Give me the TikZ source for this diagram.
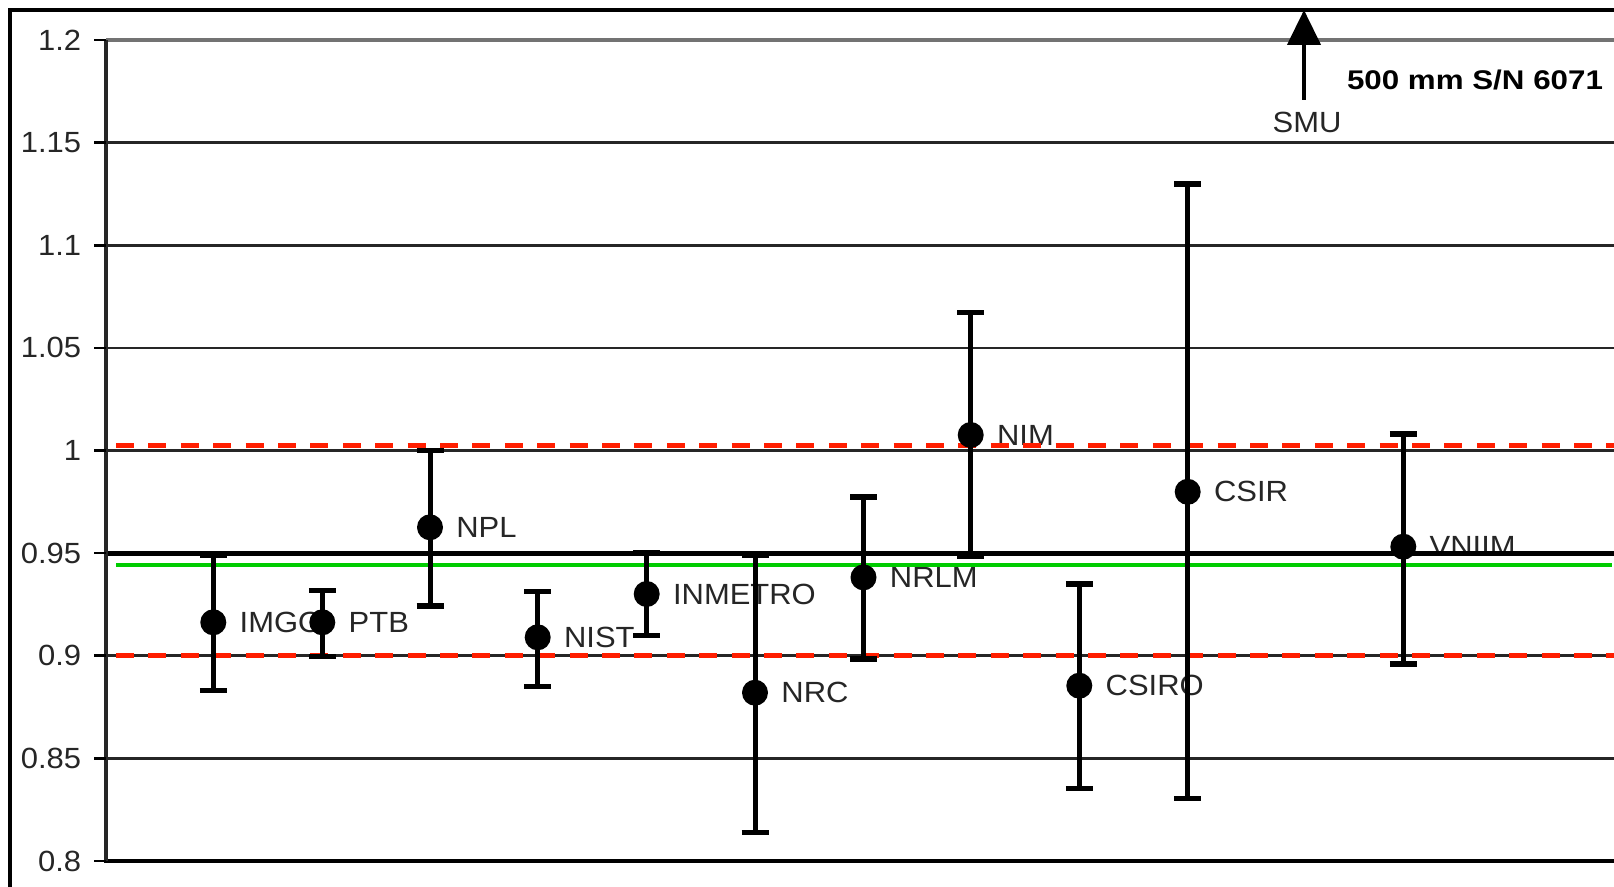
\documentclass[tikz,border=0pt]{standalone}
\usepackage{fontspec}
\setmainfont{Liberation Sans}
\usepackage{graphicx}
\usetikzlibrary{arrows.meta}
\definecolor{refred}{RGB}{255,30,0}
\definecolor{refgreen}{RGB}{0,204,0}
\begin{document}
\begin{tikzpicture}[x=0.5pt,y=-0.5pt,
  lab/.style={anchor=west,inner sep=0pt,text=black!85,font=\fontsize{14.6}{16}\selectfont},
  ticklab/.style={anchor=east,inner sep=0pt,text=black!85,font=\fontsize{14.6}{16}\selectfont},
  gridline/.style={line width=1.3pt,black!85},
  tickmark/.style={line width=1.3pt,black},
  dot/.style={circle,fill=black,inner sep=0pt,minimum size=13pt},
  errbar/.style={line width=2.5pt,black},
  errcap/.style={line width=2.8pt,black},
  limit/.style={line width=2.5pt,refred,dash pattern=on 9pt off 7.2pt},
  meanline/.style={line width=2pt,refgreen},
  frame/.style={line width=1.6pt,black}]
\useasboundingbox (0,0) rectangle (1614,887);
\fill[white] (0,0) rectangle (1614,887);
\clip (0,0) rectangle (1614,887);
% labels (drawn first, lines pass over them)
\foreach \n/\x/\t/\c/\b in {IMGO/213.3/555/622.3/690.7, PTB/322.3/590.7/622.3/656.7, NPL/430/450.6/527.3/606, NIST/537.7/591.7/637.3/686.7, INMETRO/646.7/553/594/635.7, NRC/755/555.7/692.7/832.7, NRLM/863.5/496.9/577.4/658.8, NIM/970.7/312.7/435/556.7, CSIRO/1079.3/584/685.7/788.7, CSIR/1187.7/184/491.8/798.7, VNIIM/1403.3/434.3/546.7/664}{
  \coordinate (\n-t) at (\x,\t);
  \coordinate (\n-c) at (\x,\c);
  \coordinate (\n-b) at (\x,\b);
  \node[lab] (\n-l) at (\x+26,\c) {\scalebox{1.06}[1]{\n}};
}
% frame
\coordinate (fr-bl) at (10,900);
\coordinate (fr-tl) at (10,10);
\coordinate (fr-tr) at (1630,10);
\draw[frame] (fr-bl) -- (fr-tl) -- (fr-tr);
% grid lines
\foreach \k/\y in {a/142.7, b/245.3, c/347.9, d/450.6, e/655.8, f/758.4}{
  \coordinate (g\k-l) at (106,\y);
  \coordinate (g\k-r) at (1630,\y);
  \draw[gridline] (g\k-l) -- (g\k-r);
}
\coordinate (g95a) at (106,553.2);
\coordinate (g95b) at (1630,553.2);
\draw[line width=2.4pt,black] (g95a) -- (g95b);
\coordinate (g12a) at (106,40);
\coordinate (g12b) at (1630,40);
\draw[line width=2pt,black!55] (g12a) -- (g12b);
\coordinate (g08a) at (104,861);
\coordinate (g08b) at (1630,861);
\draw[line width=2.4pt,black] (g08a) -- (g08b);
\coordinate (ax-t) at (105.7,40);
\coordinate (ax-b) at (105.7,861);
\draw[line width=1.8pt,black!85] (ax-t) -- (ax-b);
% ticks and tick labels
\foreach \v/\y [count=\i] in {1.2/40, 1.15/142.7, 1.1/245.3, 1.05/347.9, 1/450.6, 0.95/553.2, 0.9/655.8, 0.85/758.4, 0.8/861}{
  \coordinate (tk\i) at (94,\y);
  \coordinate (tke\i) at (106,\y);
  \draw[tickmark] (tk\i) -- (tke\i);
  \node[ticklab] (tl\i) at (81.5,\y) {\scalebox{1.06}[1]{\v}};
}
% limit and mean lines
\coordinate (ru-a) at (116,445.7);
\coordinate (ru-b) at (1614,445.7);
\coordinate (rl-a) at (116,655.3);
\coordinate (rl-b) at (1614,655.3);
\coordinate (gr-a) at (116,565.3);
\coordinate (gr-b) at (1612,565.3);
\draw[limit] (ru-a) -- (ru-b);
\draw[limit] (rl-a) -- (rl-b);
\draw[meanline] (gr-a) -- (gr-b);
% error bars and points
\foreach \n in {IMGO,PTB,NPL,NIST,INMETRO,NRC,NRLM,NIM,CSIRO,CSIR,VNIIM}{
  \draw[errbar] (\n-t) -- (\n-b);
  \draw[errcap] (\n-t) ++(-13.5,0) -- ++(27,0);
  \draw[errcap] (\n-b) ++(-13.5,0) -- ++(27,0);
  \node[dot] (\n) at (\n-c) {};
}
% SMU arrow
\coordinate (smu-b) at (1304,100);
\coordinate (smu-t) at (1304,10);
\draw[line width=2.2pt,-{Triangle[width=16.5pt,length=17.5pt]}] (smu-b) -- (smu-t);
\node[anchor=center,inner sep=0pt,text=black!85,font=\fontsize{14.6}{16}\selectfont] (smu) at (1307,122) {\scalebox{1.06}[1]{SMU}};
\node[anchor=center,inner sep=0pt,font=\fontsize{13.5}{15}\selectfont\bfseries] (title) at (1475,80) {\scalebox{1.16}[1]{500 mm S/N 6071}};
\end{tikzpicture}
\end{document}
